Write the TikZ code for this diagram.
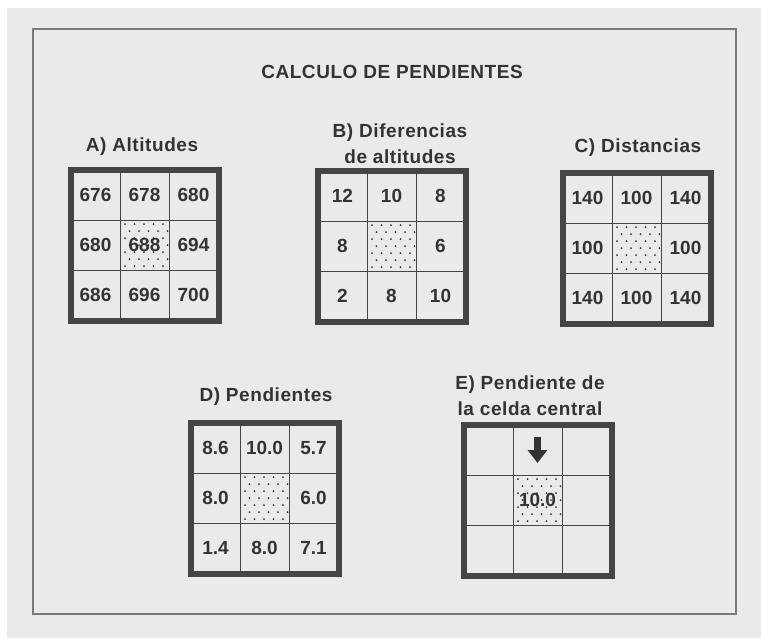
\documentclass[tikz,border=0pt]{standalone}
\usepackage{fontspec}
\usetikzlibrary{arrows.meta}
\newfontfamily\helv[LetterSpace=3]{Liberation Sans}
\newfontfamily\helvdig{Liberation Sans}

\definecolor{papel}{HTML}{EAEAEA}
\definecolor{tinta}{HTML}{333333}
\definecolor{linea}{HTML}{454545}
\definecolor{borde}{HTML}{7A7A7A}

\tikzset{
  celda/.style={draw=linea, line width=1pt, minimum width=49pt, minimum height=50pt,
    inner sep=0pt, text=tinta, font=\helvdig\fontsize{19}{22}\selectfont\bfseries},
  marco/.style={draw=linea, line width=6pt},
  rotulo/.style={text=tinta, align=center, font=\helv\fontsize{19}{26}\selectfont\bfseries},
  punto/.style={fill=tinta},
  punteado/.style={path picture={
    \foreach \pr in {0,...,6}
      \foreach \pc in {0,...,4}
        \fill[punto] ([shift={({5+\pc*9.5+mod(\pr,2)*4.5},{4+\pr*7})}]path picture bounding box.north west) circle (1pt);
  }},
  flecha/.style={draw=tinta, line width=7pt, -{Triangle[width=19pt,length=13pt]}}
}

% rejilla de 3x3 celdas: nombre, x, y, valores
\newcommand{\rejilla}[4]{%
  \foreach \v [count=\k from 0] in {#4}{%
    \pgfmathtruncatemacro{\fila}{int(\k/3)}%
    \pgfmathtruncatemacro{\col}{mod(\k,3)}%
    \ifnum\k=4
      \node[celda,punteado] (#1\k) at (#2+24.5+\col*49, #3+25+\fila*50) {\v};
    \else
      \node[celda] (#1\k) at (#2+24.5+\col*49, #3+25+\fila*50) {\v};
    \fi
  }
  \draw[marco] (#10.north west) rectangle (#18.south east);
}

\begin{document}
\begin{tikzpicture}[x=1pt,y=-1pt]
\useasboundingbox (0,0) rectangle (761,638);
\fill[white] (0,0) rectangle (761,638);
\fill[papel] (7,8) rectangle (761,638);
\draw[borde, line width=1.5pt] (33,29) rectangle (736,614);

\node[rotulo] (titulo) at (392,72) {CALCULO DE PENDIENTES};

\node[rotulo] (rotA) at (142,147) {A) Altitudes};
\rejilla{a}{71}{170}{676,678,680,680,688,694,686,696,700}

\node[rotulo] (rotB) at (400,144) {B) Diferencias\\de altitudes};
\rejilla{b}{318}{171}{12,10,8,8,{},6,2,8,10}

\node[rotulo] (rotC) at (638,148) {C) Distancias};
\rejilla{c}{563}{173}{140,100,140,100,{},100,140,100,140}

\node[rotulo] (rotD) at (266,397) {D) Pendientes};
\rejilla{d}{191}{423}{8.6,10.0,5.7,8.0,{},6.0,1.4,8.0,7.1}

\node[rotulo] (rotE) at (530,396) {E) Pendiente de\\la celda central};
\rejilla{e}{464}{425}{{},{},{},{},10.0,{},{},{},{}}

\draw[flecha] ([yshift=13pt]e1.center) -- ([yshift=-13pt]e1.center);
\end{tikzpicture}
\end{document}
